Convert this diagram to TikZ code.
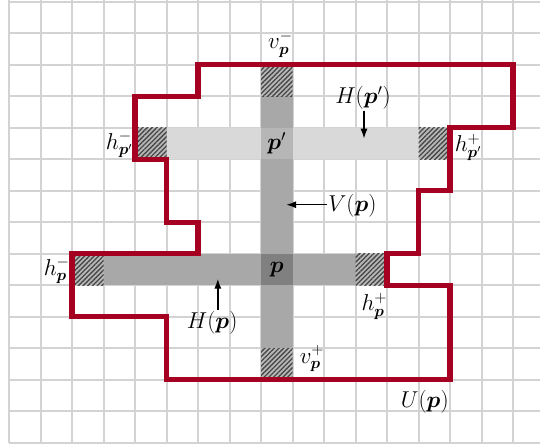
\documentclass[tikz,border=0pt]{standalone}
\usepackage{bm}
\usetikzlibrary{patterns.meta,arrows.meta}
\definecolor{gridc}{RGB}{211,211,211}
\definecolor{redc}{RGB}{165,0,33}
\definecolor{barc}{RGB}{168,168,168}
\definecolor{lightbar}{RGB}{217,217,217}
\definecolor{pcell}{RGB}{128,128,128}
\definecolor{ppcell}{RGB}{182,182,182}
\begin{document}
\begin{tikzpicture}[
  gridline/.style={draw=gridc, line width=1.8pt},
  hatch/.style={preaction={fill=black!28}, pattern={Lines[angle=45,distance=3pt,line width=1.2pt]}, pattern color=black!72},
  region/.style={draw=redc, line width=4.6pt, line join=miter},
  lbl/.style={inner sep=1pt, font=\fontsize{17}{20}\selectfont, scale=1.2},
  arr/.style={line width=1.3pt, -{Latex[length=9pt,width=6.5pt]}}
]
\useasboundingbox (-0.286,-0.046) rectangle (16.857,14.05);
% grid
\foreach \i in {0,...,16} \draw[gridline] (\i,0) -- (\i,14.05);
\foreach \j in {0,...,14} \draw[gridline] (0,\j) -- (16.857,\j);
% vertical bar V(p)
\fill[barc] (8,3) rectangle (9,11);
% horizontal bar H(p')
\fill[lightbar] (5,9) rectangle (13,10);
\fill[ppcell] (8,9) rectangle (9,10);
% horizontal bar H(p)
\fill[barc] (3,5) rectangle (11,6);
\fill[pcell] (8,5) rectangle (9,6);
% hatched end cells
\path[hatch] (8,11) rectangle (9,12);
\path[hatch] (8,2) rectangle (9,3);
\path[hatch] (4,9) rectangle (5,10);
\path[hatch] (13,9) rectangle (14,10);
\path[hatch] (2,5) rectangle (3,6);
\path[hatch] (11,5) rectangle (12,6);
% region U(p)
\draw[region] (6,12) -- (16,12) -- (16,10) -- (14,10) -- (14,8) -- (13,8) -- (13,6) -- (12,6)
  -- (12,5) -- (14,5) -- (14,2) -- (5,2) -- (5,4) -- (2,4) -- (2,6) -- (6,6) -- (6,7) -- (5,7)
  -- (5,9) -- (4,9) -- (4,11) -- (6,11) -- cycle;
% labels
\node[lbl] (p) at (8.5,5.5) {$\bm p$};
\node[lbl] (pp) at (8.5,9.5) {$\bm p'$};
\node[lbl] (vm) at (8.62,12.64) {$v_{\bm p}^-$};
\node[lbl] (vp) at (9.62,2.66) {$v_{\bm p}^+$};
\node[lbl, anchor=east] (hppm) at (3.98,9.45) {$h_{\bm p'}^-$};
\node[lbl, anchor=west] (hppp) at (14.1,9.38) {$h_{\bm p'}^+$};
\node[lbl, anchor=east] (hpm) at (1.98,5.45) {$h_{\bm p}^-$};
\node[lbl] (hpp) at (11.6,4.33) {$h_{\bm p}^+$};
\node[lbl] (Hpp) at (11.24,10.95) {$H(\bm p')$};
\node[lbl] (Vp) at (10.9,7.52) {$V(\bm p)$};
\node[lbl] (Hp) at (6.45,3.79) {$H(\bm p)$};
\node[lbl] (Up) at (13.2,1.3) {$U(\bm p)$};
% arrows
\coordinate (Hpptip) at (11.27,9.65);
\coordinate (Vptip) at (8.8,7.55);
\coordinate (Hptip) at (6.63,5.2);
\draw[arr] (Hpp.south -| Hpptip) -- (Hpptip);
\draw[arr] (Vp.west |- Vptip) -- (Vptip);
\draw[arr] (Hp.north -| Hptip) -- (Hptip);
\end{tikzpicture}
\end{document}
